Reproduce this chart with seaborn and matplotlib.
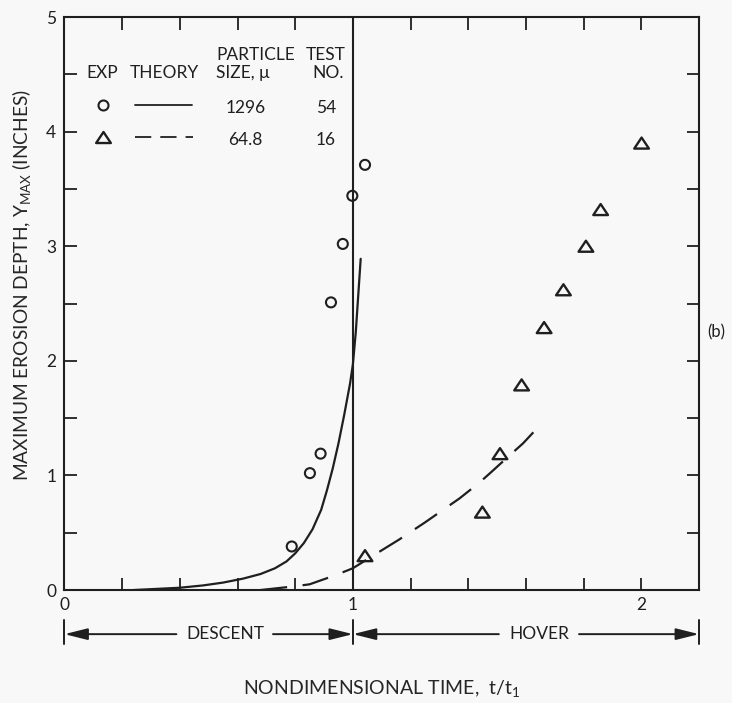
import matplotlib
matplotlib.use("Agg")
import matplotlib.pyplot as plt
from matplotlib.path import Path
from matplotlib.lines import Line2D
import seaborn as sns

# Experimental maximum erosion depth (inches) vs nondimensional time t/t1
exp_54_time = [0.788, 0.851, 0.888, 0.924, 0.965, 0.998, 1.042]
exp_54_depth = [0.38, 1.02, 1.19, 2.51, 3.02, 3.44, 3.71]
exp_16_time = [1.042, 1.449, 1.510, 1.585, 1.663, 1.730, 1.808, 1.859, 2.001]
exp_16_depth = [0.30, 0.68, 1.19, 1.79, 2.29, 2.62, 3.00, 3.32, 3.90]

# Theoretical curves
theory_54_time = [0.24, 0.32, 0.40, 0.48, 0.55, 0.62, 0.68, 0.73, 0.77, 0.80,
                  0.83, 0.86, 0.89, 0.91, 0.93, 0.95, 0.97, 0.99, 1.00, 1.01, 1.027]
theory_54_depth = [0.0, 0.01, 0.02, 0.04, 0.065, 0.10, 0.14, 0.19, 0.25, 0.32,
                   0.41, 0.53, 0.70, 0.87, 1.06, 1.28, 1.53, 1.80, 1.97, 2.25, 2.89]
theory_16_time = [0.68, 0.79, 0.85, 0.94, 1.00, 1.07, 1.16, 1.25, 1.37, 1.44, 1.48, 1.55, 1.59, 1.655]
theory_16_depth = [0.0, 0.03, 0.05, 0.13, 0.19, 0.30, 0.44, 0.59, 0.80, 0.94, 1.03, 1.19, 1.28, 1.455]

# Legend table entries
particle_sizes = ["1296", "64.8"]
test_numbers = ["54", "16"]

# Axis ticks
x_ticks = [0.0, 0.2, 0.4, 0.6, 0.8, 1.0, 1.2, 1.4, 1.6, 1.8, 2.0, 2.2]
x_tick_labels = ["0", "", "", "", "", "1", "", "", "", "", "2", ""]
y_ticks = [0.0, 0.5, 1.0, 1.5, 2.0, 2.5, 3.0, 3.5, 4.0, 4.5, 5.0]
y_tick_labels = ["0", "", "1", "", "2", "", "3", "", "4", "", "5"]

# Flight phases along the time axis
phase_names = ["DESCENT", "HOVER"]
phase_bounds = [(0.0, 1.0), (1.0, 2.2)]

INK = "#1f1f1f"
BG = "#f8f8f8"

sns.set_theme(style="ticks")
plt.rcParams["font.family"] = ["Lato", "DejaVu Sans"]
plt.rcParams["mathtext.fontset"] = "custom"
plt.rcParams["mathtext.rm"] = "Lato"
plt.rcParams["mathtext.it"] = "Lato:italic"
plt.rcParams["text.color"] = INK
plt.rcParams["axes.edgecolor"] = INK
plt.rcParams["xtick.color"] = INK
plt.rcParams["ytick.color"] = INK

fig = plt.figure(figsize=(7.32, 7.03), dpi=100, facecolor=BG)
ax = fig.add_axes([0.0881, 0.1607, 0.8668, 0.8151], facecolor=BG)

tri = Path([(0, 0.75), (-1, -0.75), (1, -0.75), (0, 0.75)],
           [Path.MOVETO, Path.LINETO, Path.LINETO, Path.CLOSEPOLY])

# Theory curves
sns.lineplot(x=theory_54_time, y=theory_54_depth, ax=ax, color=INK, lw=1.6,
             estimator=None, sort=False)
sns.lineplot(x=theory_16_time, y=theory_16_depth, ax=ax, color=INK, lw=1.6,
             estimator=None, sort=False, linestyle=(0, (12, 7)))

# Experimental points
sns.scatterplot(x=exp_54_time, y=exp_54_depth, ax=ax, marker="o", s=52,
                facecolors="none", edgecolors=INK, linewidths=1.5, zorder=4)
sns.scatterplot(x=exp_16_time, y=exp_16_depth, ax=ax, marker=tri, s=112,
                facecolors="none", edgecolors=INK, linewidths=1.7, zorder=4)

# End of descent
ax.axvline(1.0, color=INK, lw=1.5, zorder=3)

ax.set_xlim(0, 2.2)
ax.set_ylim(0, 5)
ax.set_xticks(x_ticks)
ax.set_xticklabels(x_tick_labels, fontsize=12.5)
ax.set_yticks(y_ticks)
ax.set_yticklabels(y_tick_labels, fontsize=12.5)
ax.tick_params(axis="both", direction="in", length=9, width=1.3,
               top=True, right=True, colors=INK)
ax.tick_params(axis="x", pad=5)
ax.tick_params(axis="y", pad=6)
for sp in ax.spines.values():
    sp.set_linewidth(1.5)
    sp.set_color(INK)

ax.set_xlabel(r"NONDIMENSIONAL TIME,  $\mathrm{t/t}_{1}$", fontsize=14)
ax.xaxis.set_label_coords(0.5, -0.153)
ax.set_ylabel(r"MAXIMUM EROSION DEPTH, Y$_{\mathrm{MAX}}$ (INCHES)", fontsize=13.8)
ax.yaxis.set_label_coords(-0.05, 0.532)

# Phase arrows beneath the time axis
xa = ax.get_xaxis_transform()
arrow_y = -0.077
head = dict(arrowstyle="-|>,head_length=1.0,head_width=0.25", color=INK,
            lw=1.4, mutation_scale=14, shrinkA=0, shrinkB=0)
text_gap = {"DESCENT": (0.388, 0.723), "HOVER": (1.506, 1.784)}
text_mid = {"DESCENT": 0.557, "HOVER": 1.645}
for name, (x0, x1) in zip(phase_names, phase_bounds):
    g0, g1 = text_gap[name]
    ax.annotate("", xy=(x0, arrow_y), xytext=(g0, arrow_y), xycoords=xa,
                textcoords=xa, arrowprops=head, annotation_clip=False)
    ax.annotate("", xy=(x1, arrow_y), xytext=(g1, arrow_y), xycoords=xa,
                textcoords=xa, arrowprops=head, annotation_clip=False)
    ax.text(text_mid[name], arrow_y, name, transform=xa, ha="center",
            va="center", fontsize=12.5)
for xb in (0.0, 1.0, 2.2):
    ax.plot([xb, xb], [-0.053, -0.095], transform=xa, color=INK, lw=1.4,
            clip_on=False)

# Legend table
ta = ax.transAxes
hdr = dict(transform=ta, fontsize=12.5, va="center")
ax.text(0.0587, 0.903, "EXP", ha="center", **hdr)
ax.text(0.157, 0.903, "THEORY", ha="center", **hdr)
ax.text(0.2388, 0.934, "PARTICLE", ha="left", **hdr)
ax.text(0.2388, 0.903, "SIZE, μ", ha="left", **hdr)
ax.text(0.412, 0.934, "TEST", ha="center", **hdr)
ax.text(0.416, 0.903, "NO.", ha="center", **hdr)

row_y = [0.846, 0.790]
ax.add_line(Line2D([0.0612], [row_y[0]], transform=ta, marker="o", ms=7.2,
                   mfc="none", mec=INK, mew=1.5, ls="none"))
ax.add_line(Line2D([0.111, 0.2005], [row_y[0]], transform=ta, color=INK, lw=1.3))
ax.add_line(Line2D([0.0602], [row_y[1]], transform=ta, marker=tri, ms=10.6,
                   mfc="none", mec=INK, mew=1.7, ls="none"))
ax.add_line(Line2D([0.111, 0.2025], [row_y[1]], transform=ta, color=INK, lw=1.3,
                   ls=(0, (9, 5))))
for ry, size, test in zip(row_y, particle_sizes, test_numbers):
    ax.text(0.285, ry - 0.004, size, ha="center", **hdr)
    ax.text(0.412, ry - 0.004, test, ha="center", **hdr)

# Panel tag
ax.text(1.0126, 0.45, "(b)", transform=ta, ha="left", va="center", fontsize=12)

fig.savefig("out.png", dpi=100, facecolor=BG)
